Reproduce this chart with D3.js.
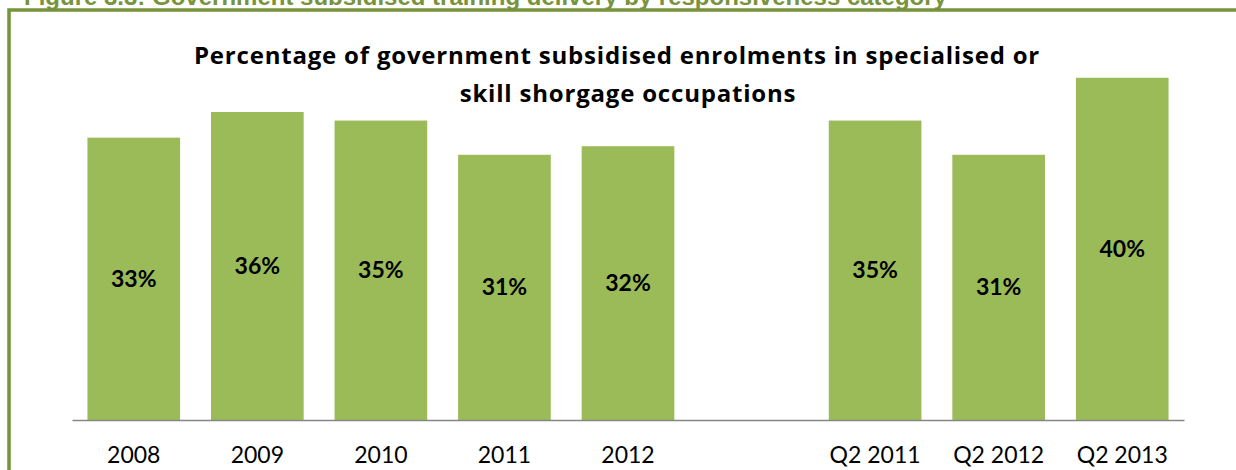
<!DOCTYPE html>
<html>
<head>
<meta charset="utf-8">
<script src="https://cdn.jsdelivr.net/npm/d3@7"></script>
<style>
  html, body { margin: 0; padding: 0; background: #ffffff; overflow: hidden; }
  svg { display: block; }
</style>
</head>
<body>
<script>
// Annual series and June-quarter series, separated on the axis by an empty slot
const annualYears = ["2008", "2009", "2010", "2011", "2012"];
const annualValues = [33, 36, 35, 31, 32];
const quarterLabels = ["Q2 2011", "Q2 2012", "Q2 2013"];
const quarterValues = [35, 31, 40];
const spacerKey = "__gap__";

const figureCaption = "Figure 3.3: Government subsidised training delivery by responsiveness category";
const titleLines = [
  "Percentage of government subsidised enrolments in specialised or",
  "skill shorgage occupations"
];

const W = 1236, H = 470;
const green = "#77933C";
const barColor = "#9BBB59";

const rows = annualYears.map((c, i) => ({ cat: c, value: annualValues[i] }))
  .concat(quarterLabels.map((c, i) => ({ cat: c, value: quarterValues[i] })));
const domainKeys = [...annualYears, spacerKey, ...quarterLabels];

const svg = d3.select("body").append("svg")
  .attr("width", W).attr("height", H);

// Figure caption (sits partly above the frame)
svg.append("text")
  .attr("x", 24).attr("y", 5)
  .attr("font-family", "'Liberation Sans', Arial, sans-serif")
  .attr("font-weight", "bold")
  .attr("font-size", 24)
  .attr("fill", green)
  .text(figureCaption);

// Green frame: left and top edges
svg.append("path")
  .attr("d", `M9,${H + 5} L9,10 L${W + 5},10`)
  .attr("fill", "none")
  .attr("stroke", green)
  .attr("stroke-width", 3.5);

// Chart title
const titleX = [617, 628];
svg.append("g").selectAll("text")
  .data(titleLines)
  .join("text")
  .attr("x", (d, i) => titleX[i])
  .attr("y", (d, i) => 64 + i * 38)
  .attr("text-anchor", "middle")
  .attr("font-family", "'Open Sans', Lato, sans-serif")
  .attr("font-weight", "bold")
  .attr("font-size", 24)
  .attr("letter-spacing", 0.8)
  .attr("fill", "#000")
  .text(d => d);

const x = d3.scaleBand()
  .domain(domainKeys)
  .range([72, 1184])
  .paddingInner(0.25)
  .paddingOuter(0.125);

const y = d3.scaleLinear()
  .domain([0, 45])
  .range([420, 35]);

// Bars
svg.append("g").selectAll("rect")
  .data(rows)
  .join("rect")
  .attr("x", d => x(d.cat))
  .attr("y", d => y(d.value))
  .attr("width", x.bandwidth())
  .attr("height", d => y(0) - y(d.value))
  .attr("fill", barColor);

// Value labels, centred in each bar
svg.append("g").selectAll("text")
  .data(rows)
  .join("text")
  .attr("x", d => x(d.cat) + x.bandwidth() / 2)
  .attr("y", d => (y(d.value) + y(0)) / 2 + 8)
  .attr("text-anchor", "middle")
  .attr("font-family", "Lato, 'Open Sans', sans-serif")
  .attr("font-weight", "bold")
  .attr("font-size", 23)
  .attr("fill", "#000")
  .text(d => d.value + "%");

// Category axis
const xAxis = d3.axisBottom(x)
  .tickValues(domainKeys.filter(k => k !== spacerKey))
  .tickSize(0)
  .tickSizeOuter(0)
  .tickPadding(0);

const axisG = svg.append("g")
  .attr("transform", "translate(0,420)")
  .call(xAxis);

axisG.select(".domain")
  .attr("stroke", "#868686")
  .attr("stroke-width", 1.5);

axisG.selectAll(".tick text")
  .attr("y", 43)
  .attr("dy", null)
  .attr("font-family", "Lato, 'Open Sans', sans-serif")
  .attr("font-size", 23)
  .attr("fill", "#000");
</script>
</body>
</html>
